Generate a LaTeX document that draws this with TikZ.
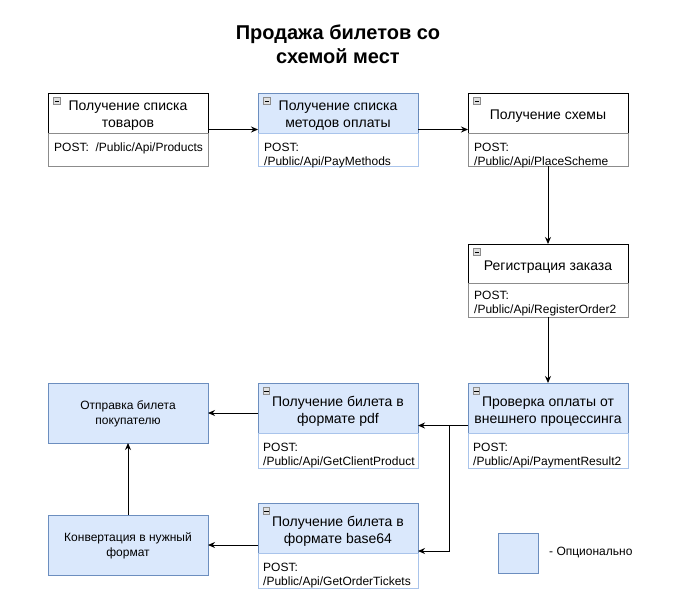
\documentclass[tikz,border=0pt]{standalone}
\usepackage{fontspec}
\setmainfont{Liberation Sans}
\usetikzlibrary{arrows.meta}
\definecolor{bluefill}{HTML}{DAE8FC}
\definecolor{bluedraw}{HTML}{6C8EBF}
\definecolor{bluelight}{HTML}{A9C4EB}
\definecolor{graydraw}{HTML}{8C8C8C}
\definecolor{iconfill}{HTML}{E0E0E0}
\begin{document}
\begin{tikzpicture}[x=1pt,y=-1pt,
  outerbox/.style={minimum width=160pt, inner sep=0pt, outer sep=0pt, anchor=north west},
  hdrplain/.style={draw=black, fill=white, line width=1pt, minimum width=160pt, inner sep=0pt, outer sep=0pt, anchor=north west},
  hdrblue/.style={hdrplain, draw=bluedraw, fill=bluefill},
  htext/.style={inner sep=0pt, align=center, font=\fontsize{14}{16.5}\selectfont},
  bodyplain/.style={draw=graydraw, fill=white, line width=1pt, minimum width=160pt, inner sep=0pt, outer sep=0pt, anchor=north west},
  bodyblue/.style={bodyplain, draw=bluelight},
  btext/.style={anchor=north west, inner sep=0pt, align=left, font=\fontsize{12}{14.3}\selectfont},
  plainbox/.style={draw=bluedraw, fill=bluefill, line width=1pt, minimum width=160pt, minimum height=60pt, inner sep=0pt, outer sep=0pt, anchor=north west},
  ptext/.style={inner sep=0pt, align=center, font=\fontsize{12}{15}\selectfont},
  collapseicon/.style={draw=graydraw, fill=iconfill, line width=0.6pt, minimum size=6.5pt, inner sep=0pt, outer sep=0pt,
     path picture={\draw[black, line width=0.8pt] ([xshift=1.2pt]path picture bounding box.west) -- ([xshift=-1.2pt]path picture bounding box.east);}},
  arr/.style={-{Stealth[length=7pt,width=6pt]}, line width=1pt, black}
]
\useasboundingbox (0,0) rectangle (674,613);

% title
\node[font=\bfseries\fontsize{20}{24}\selectfont, align=center] (title) at (338,44) {Продажа билетов со\\схемой мест};

% ---- box 1
\node[outerbox, minimum height=73pt] (b1) at (48,93) {};
\node[hdrplain, minimum height=40pt] (b1h) at (b1.north west) {};
\node[htext] (b1l) at ([yshift=-2.5pt]b1h.center) {Получение списка\\товаров};
\node[bodyplain, minimum height=33pt] (b1b) at (b1h.south west) {};
\node[btext] (b1t) at ([shift={(6,10)}]b1b.north west) {POST:\ \ /Public/Api/Products};
\node[collapseicon] (b1i) at ([shift={(9,8)}]b1.north west) {};

% ---- box 2
\node[outerbox, minimum height=73pt] (b2) at (258,93) {};
\node[hdrblue, minimum height=40pt] (b2h) at (b2.north west) {};
\node[htext] (b2l) at ([yshift=-2.5pt]b2h.center) {Получение списка\\методов оплаты};
\node[bodyblue, minimum height=33pt] (b2b) at (b2h.south west) {};
\node[btext] (b2t) at ([shift={(6,10)}]b2b.north west) {POST:\\/Public/Api/PayMethods};
\node[collapseicon] (b2i) at ([shift={(9,8)}]b2.north west) {};

% ---- box 3
\node[outerbox, minimum height=73pt] (b3) at (468,93) {};
\node[hdrplain, minimum height=40pt] (b3h) at (b3.north west) {};
\node[htext] (b3l) at ([yshift=-3.5pt]b3h.center) {Получение схемы};
\node[bodyplain, minimum height=33pt] (b3b) at (b3h.south west) {};
\node[btext] (b3t) at ([shift={(6,10)}]b3b.north west) {POST:\\/Public/Api/PlaceScheme};
\node[collapseicon] (b3i) at ([shift={(9,8)}]b3.north west) {};

% ---- box 4
\node[outerbox, minimum height=73pt] (b4) at (468,244) {};
\node[hdrplain, minimum height=39pt] (b4h) at (b4.north west) {};
\node[htext] (b4l) at ([yshift=-3.5pt]b4h.center) {Регистрация заказа};
\node[bodyplain, minimum height=34pt] (b4b) at (b4h.south west) {};
\node[btext] (b4t) at ([shift={(6,8)}]b4b.north west) {POST:\\/Public/Api/RegisterOrder2};
\node[collapseicon] (b4i) at ([shift={(9,8)}]b4.north west) {};

% ---- box 5
\node[outerbox, minimum height=85pt] (b5) at (468,383) {};
\node[hdrblue, minimum height=50pt] (b5h) at (b5.north west) {};
\node[htext] (b5l) at ([yshift=-3.5pt]b5h.center) {Проверка оплаты от\\внешнего процессинга};
\node[bodyblue, minimum height=35pt] (b5b) at (b5h.south west) {};
\node[btext] (b5t) at ([shift={(5,10)}]b5b.north west) {POST:\\/Public/Api/PaymentResult2};
\node[collapseicon] (b5i) at ([shift={(8.5,8)}]b5.north west) {};

% ---- box 6
\node[outerbox, minimum height=85pt] (b6) at (258,383) {};
\node[hdrblue, minimum height=50pt] (b6h) at (b6.north west) {};
\node[htext] (b6l) at ([yshift=-3.5pt]b6h.center) {Получение билета в\\формате pdf};
\node[bodyblue, minimum height=35pt] (b6b) at (b6h.south west) {};
\begin{scope}
\clip ([xshift=0.5pt]b6b.north west) rectangle ([xshift=-0.5pt]b6b.south east);
\node[btext] (b6t) at ([shift={(5,10)}]b6b.north west) {POST:\\/Public/Api/GetClientProduct};
\end{scope}
\node[collapseicon] (b6i) at ([shift={(8.5,8)}]b6.north west) {};

% ---- box 7
\node[outerbox, minimum height=85pt] (b7) at (258,503) {};
\node[hdrblue, minimum height=50pt] (b7h) at (b7.north west) {};
\node[htext] (b7l) at ([yshift=-3.5pt]b7h.center) {Получение билета в\\формате base64};
\node[bodyblue, minimum height=35pt] (b7b) at (b7h.south west) {};
\node[btext] (b7t) at ([shift={(5,10)}]b7b.north west) {POST:\\/Public/Api/GetOrderTickets};
\node[collapseicon] (b7i) at ([shift={(8.5,8)}]b7.north west) {};

% ---- plain boxes
\node[plainbox] (b8) at (48,383) {};
\node[ptext] (b8l) at ([yshift=-1pt]b8.center) {Отправка билета\\покупателю};
\node[plainbox] (b9) at (48,515) {};
\node[ptext] (b9l) at ([yshift=-1pt]b9.center) {Конвертация в нужный\\формат};

% ---- legend
\node[plainbox, minimum width=40pt, minimum height=40pt] (leg) at (498,533) {};
\node[anchor=west, inner sep=0pt, font=\fontsize{12}{14}\selectfont] (legt) at (549,552) {- Опционально};

% ---- connectors
\draw[arr] (b1.east) -- (b2.west);
\draw[arr] (b2.east) -- (b3.west);
\draw[arr] (b3.south) -- (b4.north);
\draw[arr] (b4.south) -- (b5.north);
\draw[arr] (b5.west) -- (b6.east);
\coordinate (split) at (449,425.5);
\draw[arr] (split) |- ([yshift=-5.5pt]b7.east);
\draw[arr] (b8.east -| b6.west) -- (b8.east);
\draw[arr] (b9.east -| b7.west) -- (b9.east);
\draw[arr] (b9.north) -- (b8.south);
\end{tikzpicture}
\end{document}
